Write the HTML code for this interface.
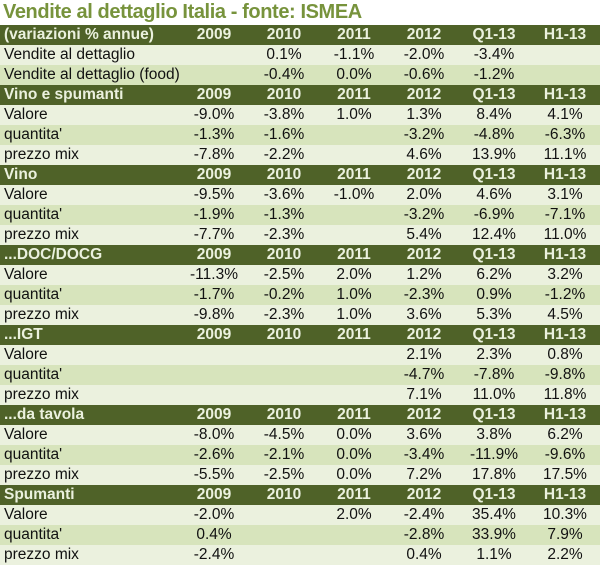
<!DOCTYPE html>
<html><head><meta charset="utf-8"><style>
html,body{margin:0;padding:0;background:#fff;width:600px;height:566px;overflow:hidden}
body{font-family:"Liberation Sans",sans-serif}
.t{height:25px;line-height:25px;color:#77933c;font-weight:bold;font-size:20px;padding-left:3px;white-space:nowrap;letter-spacing:-0.4px}
.r{position:relative;height:20px;line-height:20px;font-size:15.5px;color:#111}
.h{background:#4f6228;color:#ebf1de;font-weight:bold}
.a{background:#ebf1de}
.b{background:#d7e4bc}
.r span{position:absolute;top:0;width:70px;text-align:center;white-space:nowrap}
.r .l{left:4px;width:auto;text-align:left}
</style></head><body>
<div class="t">Vendite al dettaglio Italia - fonte: ISMEA</div>
<div id="tb"></div>
<script>
var c=[214,284,354,424,494,565];
var rows=[
["h","(variazioni % annue)","2009","2010","2011","2012","Q1-13","H1-13"],
["a","Vendite al dettaglio","","0.1%","-1.1%","-2.0%","-3.4%",""],
["b","Vendite al dettaglio (food)","","-0.4%","0.0%","-0.6%","-1.2%",""],
["h","Vino e spumanti","2009","2010","2011","2012","Q1-13","H1-13"],
["a","Valore","-9.0%","-3.8%","1.0%","1.3%","8.4%","4.1%"],
["b","quantita'","-1.3%","-1.6%","","-3.2%","-4.8%","-6.3%"],
["a","prezzo mix","-7.8%","-2.2%","","4.6%","13.9%","11.1%"],
["h","Vino","2009","2010","2011","2012","Q1-13","H1-13"],
["a","Valore","-9.5%","-3.6%","-1.0%","2.0%","4.6%","3.1%"],
["b","quantita'","-1.9%","-1.3%","","-3.2%","-6.9%","-7.1%"],
["a","prezzo mix","-7.7%","-2.3%","","5.4%","12.4%","11.0%"],
["h","...DOC/DOCG","2009","2010","2011","2012","Q1-13","H1-13"],
["a","Valore","-11.3%","-2.5%","2.0%","1.2%","6.2%","3.2%"],
["b","quantita'","-1.7%","-0.2%","1.0%","-2.3%","0.9%","-1.2%"],
["a","prezzo mix","-9.8%","-2.3%","1.0%","3.6%","5.3%","4.5%"],
["h","...IGT","2009","2010","2011","2012","Q1-13","H1-13"],
["a","Valore","","","","2.1%","2.3%","0.8%"],
["b","quantita'","","","","-4.7%","-7.8%","-9.8%"],
["a","prezzo mix","","","","7.1%","11.0%","11.8%"],
["h","...da tavola","2009","2010","2011","2012","Q1-13","H1-13"],
["a","Valore","-8.0%","-4.5%","0.0%","3.6%","3.8%","6.2%"],
["b","quantita'","-2.6%","-2.1%","0.0%","-3.4%","-11.9%","-9.6%"],
["a","prezzo mix","-5.5%","-2.5%","0.0%","7.2%","17.8%","17.5%"],
["h","Spumanti","2009","2010","2011","2012","Q1-13","H1-13"],
["a","Valore","-2.0%","","2.0%","-2.4%","35.4%","10.3%"],
["b","quantita'","0.4%","","","-2.8%","33.9%","7.9%"],
["a","prezzo mix","-2.4%","","","0.4%","1.1%","2.2%"]
];
var h="";
rows.forEach(function(r){
 h+='<div class="r '+r[0]+'"><span class="l">'+r[1]+'</span>';
 for(var i=0;i<6;i++)h+='<span style="left:'+(c[i]-35)+'px">'+r[i+2]+'</span>';
 h+='</div>';
});
document.getElementById("tb").innerHTML=h;
</script>
</body></html>
